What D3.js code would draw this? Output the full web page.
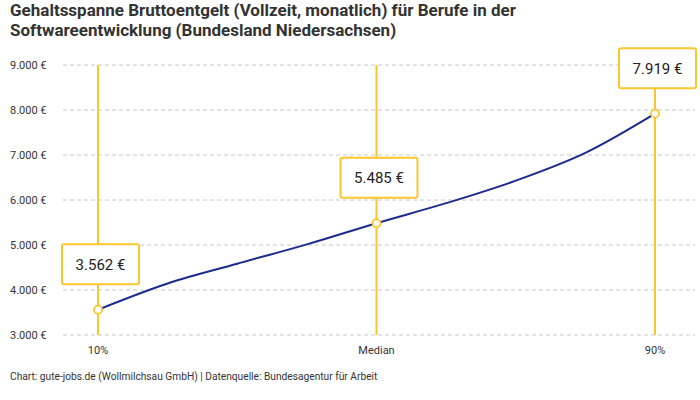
<!DOCTYPE html>
<html>
<head>
<meta charset="utf-8">
<script src="https://cdn.jsdelivr.net/npm/d3@7"></script>
<style>
  body { margin: 0; background: #fff; }
  text { font-family: Roboto, "Noto Sans", sans-serif; }
</style>
</head>
<body>
<svg id="chart"></svg>
<script>
// percentiles of the monthly gross salary
const percentiles = [10, 20, 30, 40, 50, 60, 70, 80, 90];
const salaries = [3562, 4144, 4584, 5014, 5485, 5930, 6430, 7047, 7919];

// the three marked points (10%, median, 90%)
const markedPercentiles = [10, 50, 90];
const markedLabels = ["10%", "Median", "90%"];

const yTicks = [3000, 4000, 5000, 6000, 7000, 8000, 9000];

const titleLines = [
  "Gehaltsspanne Bruttoentgelt (Vollzeit, monatlich) für Berufe in der",
  "Softwareentwicklung (Bundesland Niedersachsen)"
];
const footer = "Chart: gute-jobs.de (Wollmilchsau GmbH) | Datenquelle: Bundesagentur für Arbeit";

const yellow = "#fdc62f", navy = "#1b2b8e";

let svg = d3.select("#chart")
    .attr("width", 700)
    .attr("height", 400),
  margin = {top: 65, left: 98, right: 45, bottom: 65},
  width = +svg.attr("width") - margin.left - margin.right,
  height = +svg.attr("height") - margin.top - margin.bottom;

const fmt = d3.formatLocale({decimal: ",", thousands: ".", grouping: [3], currency: ["", " €"]}).format(",.0f");

// title
svg.append("g").selectAll("text")
  .data(titleLines)
  .join("text")
  .attr("x", 10)
  .attr("y", (d, i) => 16 + i * 20)
  .attr("fill", "#333")
  .attr("font-size", "17px")
  .attr("font-weight", 700)
  .text(d => d);

let xScale = d3.scaleLinear()
  .domain([10, 90])
  .range([margin.left, margin.left + width]);

let yScale = d3.scaleLinear()
  .domain([3000, 9000])
  .range([margin.top + height, margin.top]);

// horizontal grid
let grid = svg.append("g");
grid.selectAll("line")
  .data(yTicks)
  .join("line")
  .attr("x1", 63)
  .attr("x2", 695)
  .attr("y1", d => yScale(d))
  .attr("y2", d => yScale(d))
  .attr("stroke", "#c8c8c8")
  .attr("stroke-dasharray", "4,3");

grid.selectAll("text")
  .data(yTicks)
  .join("text")
  .attr("x", 10)
  .attr("y", d => yScale(d))
  .attr("dy", "0.35em")
  .attr("fill", "#333")
  .attr("font-size", "11px")
  .text(d => fmt(d) + " €");

// vertical yellow lines at the marked percentiles
svg.append("g").selectAll("line")
  .data(markedPercentiles)
  .join("line")
  .attr("x1", d => xScale(d))
  .attr("x2", d => xScale(d))
  .attr("y1", yScale(9000))
  .attr("y2", yScale(3000))
  .attr("stroke", yellow)
  .attr("stroke-width", 2);

// x labels
svg.append("g").selectAll("text")
  .data(markedPercentiles)
  .join("text")
  .attr("x", d => xScale(d))
  .attr("y", 350)
  .attr("dy", "0.35em")
  .attr("text-anchor", "middle")
  .attr("fill", "#333")
  .attr("font-size", "11px")
  .text((d, i) => markedLabels[i]);

// salary line
let data = percentiles.map((p, i) => ({p: p, v: salaries[i]}));
let line = d3.line()
  .x(d => xScale(d.p))
  .y(d => yScale(d.v))
  .curve(d3.curveMonotoneX);

svg.append("path")
  .datum(data)
  .attr("fill", "none")
  .attr("stroke", navy)
  .attr("stroke-width", 2)
  .attr("d", line);

let marked = data.filter(d => markedPercentiles.includes(d.p));

// points
svg.append("g").selectAll("circle")
  .data(marked)
  .join("circle")
  .attr("cx", d => xScale(d.p))
  .attr("cy", d => yScale(d.v))
  .attr("r", 4)
  .attr("fill", "#fff")
  .attr("stroke", yellow)
  .attr("stroke-width", 1.8);

// value boxes above the points
let boxes = svg.append("g").selectAll("g")
  .data(marked)
  .join("g")
  .attr("transform", d => "translate(" + (xScale(d.p) + 2.5) + "," + (yScale(d.v) - 65.5) + ")");

boxes.append("rect")
  .attr("x", -38.5)
  .attr("y", 0)
  .attr("width", 77)
  .attr("height", 40)
  .attr("rx", 2)
  .attr("fill", "#fff")
  .attr("stroke", yellow)
  .attr("stroke-width", 2);

boxes.append("text")
  .attr("x", 0)
  .attr("y", 20.5)
  .attr("dy", "0.35em")
  .attr("text-anchor", "middle")
  .attr("fill", "#222")
  .attr("font-size", "15px")
  .text(d => fmt(d.v) + " €");

// footer
svg.append("text")
  .attr("x", 10)
  .attr("y", 380)
  .attr("fill", "#333")
  .attr("font-size", "10.2px")
  .text(footer);
</script>
</body>
</html>
